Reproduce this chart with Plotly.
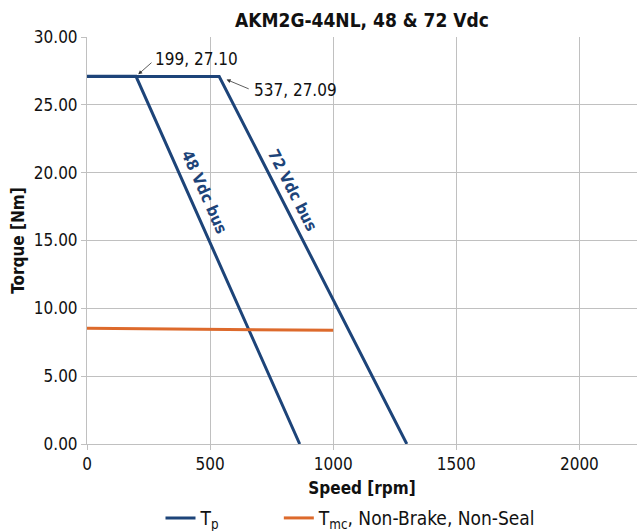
import plotly.graph_objects as go

# Data
speed_48 = [0, 199, 864]
torque_48 = [27.10, 27.10, 0.0]
speed_72 = [0, 537, 1299]
torque_72 = [27.09, 27.09, 0.0]
speed_tmc = [0, 500, 1000]
torque_tmc = [8.53, 8.48, 8.38]

x_ticks = [0, 500, 1000, 1500, 2000]
y_ticks = [0, 5, 10, 15, 20, 25, 30]

FONT = "DejaVu Sans Condensed, Roboto, sans-serif"
BLUE = "#1d4479"
ORANGE = "#dd6a2c"

fig = go.Figure()
# Tp: two curves, one legend entry
fig.add_trace(go.Scatter(x=speed_48, y=torque_48, mode="lines",
                         line=dict(color=BLUE, width=3),
                         name="T<sub>p</sub>" + "&nbsp;" * 10,
                         legendgroup="tp"))
fig.add_trace(go.Scatter(x=speed_72, y=torque_72, mode="lines",
                         line=dict(color=BLUE, width=3), name="T<sub>p</sub>",
                         legendgroup="tp", showlegend=False))
fig.add_trace(go.Scatter(x=speed_tmc, y=torque_tmc, mode="lines",
                         line=dict(color=ORANGE, width=3),
                         name="T<sub>mc</sub>, Non-Brake, Non-Seal"))

annotations = [
    # arrows
    dict(x=speed_48[1], y=torque_48[1], text="", showarrow=True, ax=17, ay=-15,
         arrowhead=2, arrowsize=1, arrowwidth=0.8, arrowcolor="#333", standoff=3),
    dict(x=speed_72[1], y=torque_72[1], text="", showarrow=True, ax=31, ay=13,
         arrowhead=2, arrowsize=1, arrowwidth=0.8, arrowcolor="#333", standoff=8),
    # point labels
    dict(x=268, y=28.37, text=f"{speed_48[1]}, {torque_48[1]:.2f}", showarrow=False,
         xanchor="left", yanchor="middle", font=dict(size=17, color="#111")),
    dict(x=670, y=26.09, text=f"{speed_72[1]}, {torque_72[1]:.2f}", showarrow=False,
         xanchor="left", yanchor="middle", font=dict(size=17, color="#111")),
    # curve labels
    dict(x=479, y=18.57, text="<b>48 Vdc bus</b>", showarrow=False, textangle=66,
         font=dict(size=16, color=BLUE)),
    dict(x=836, y=18.7, text="<b>72 Vdc bus</b>", showarrow=False, textangle=63,
         font=dict(size=16, color=BLUE)),
]

H = 531
fig.update_layout(
    width=637, height=H,
    margin=dict(l=87, r=0, t=37, b=87, autoexpand=False),
    paper_bgcolor="white", plot_bgcolor="white",
    font=dict(family=FONT, size=16, color="#111"),
    title=dict(text="<b>AKM2G-44NL, 48 & 72 Vdc</b>", x=0.5, xref="paper",
               y=1 - 20 / H, yanchor="middle", font=dict(size=19)),
    xaxis=dict(range=[0, 2234], tickvals=x_ticks, showgrid=True, gridcolor="#c0c0c0",
               gridwidth=1, zeroline=False, showline=True, linecolor="#c0c0c0",
               ticks="outside", ticklen=5, tickcolor="#c0c0c0", automargin=False,
               tickfont=dict(size=17),
               title=dict(text="<b>Speed [rpm]</b>", standoff=8, font=dict(size=17))),
    yaxis=dict(range=[0, 30], tickvals=y_ticks, tickformat=".2f", showgrid=True,
               gridcolor="#c0c0c0", gridwidth=1, zeroline=False, showline=True,
               linecolor="#c0c0c0", ticks="outside", ticklen=5, tickcolor="#c0c0c0",
               automargin=False, tickfont=dict(size=17),
               title=dict(text="<b>Torque [Nm]</b>", standoff=4, font=dict(size=17))),
    legend=dict(orientation="h", x=0.48, xanchor="center", y=-0.182, yanchor="middle",
                font=dict(size=19)),
    annotations=annotations,
)

fig.write_html(
    "out.html",
    config={"displayModeBar": False},
    post_script="document.body.style.margin='0';document.body.style.overflow='hidden';",
)
